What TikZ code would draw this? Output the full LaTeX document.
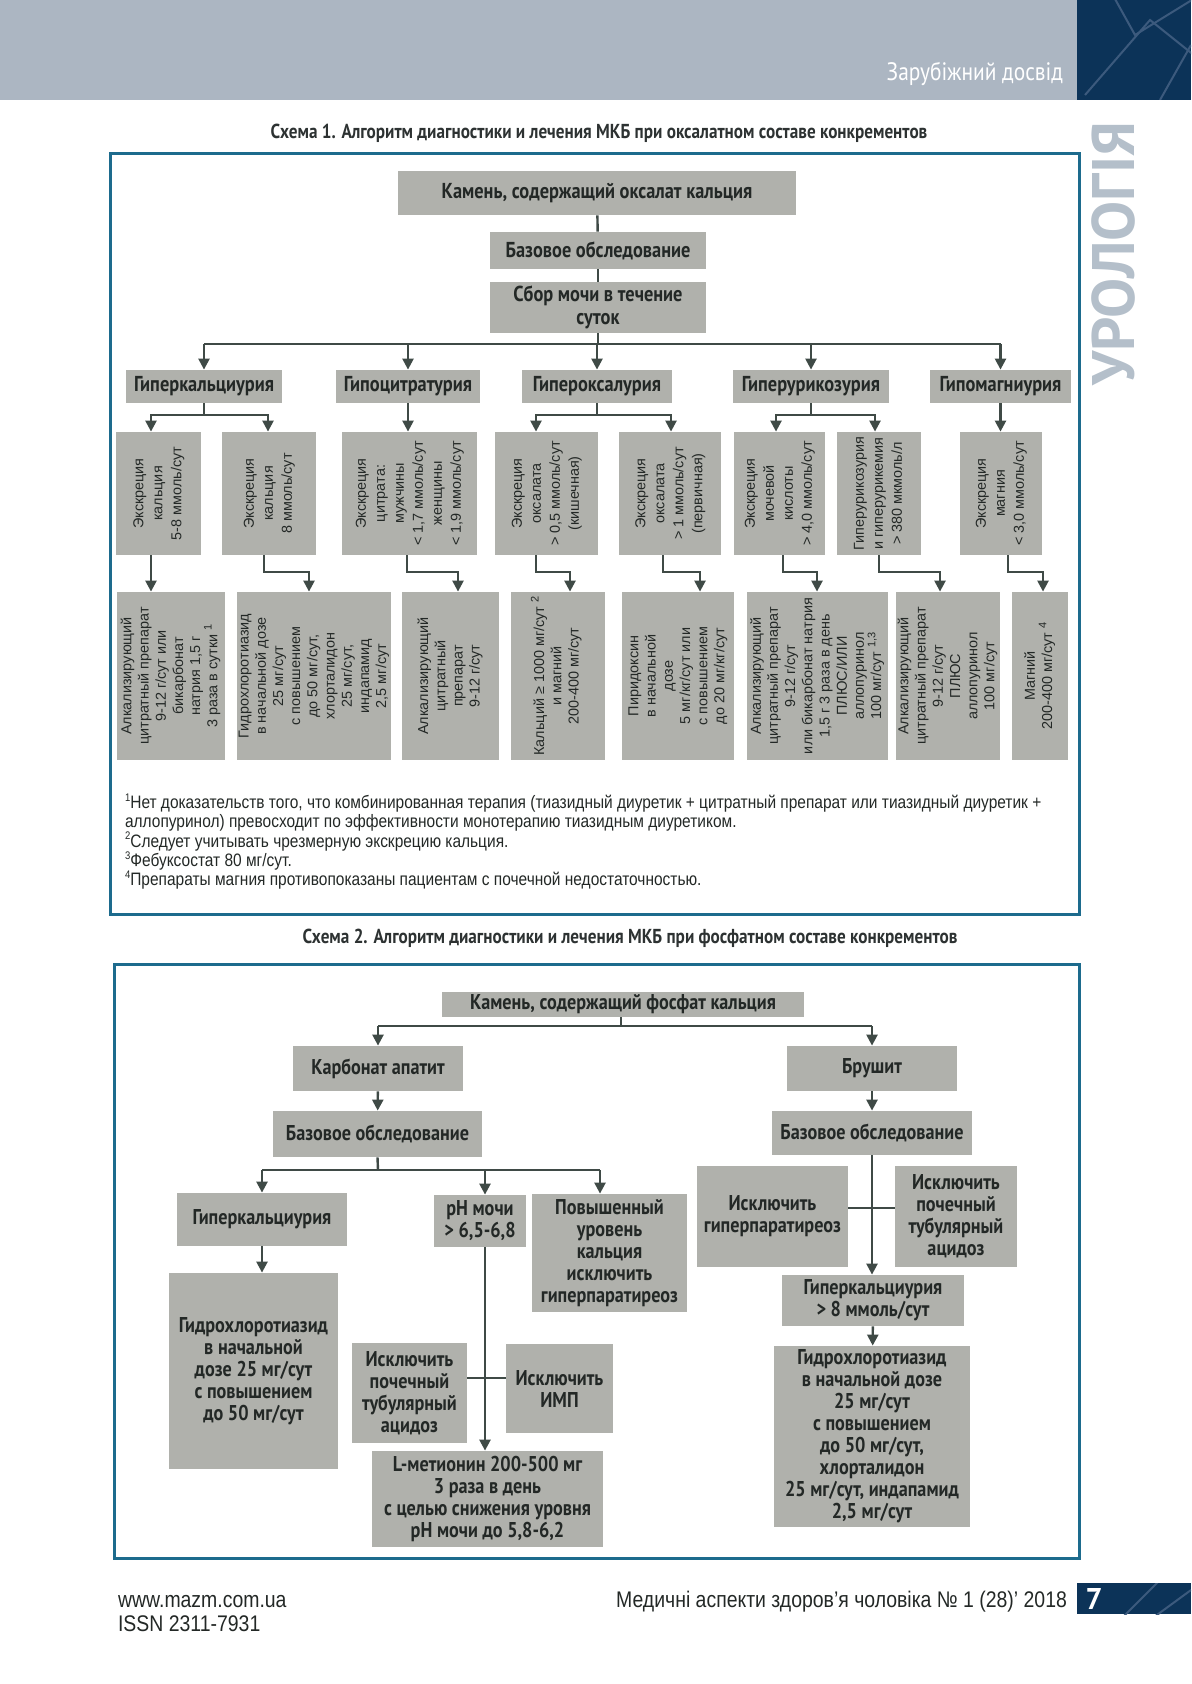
\documentclass[tikz,border=0pt]{standalone}
\usepackage{fontspec}
\usepackage{graphicx}
\setmainfont{Liberation Sans}
\newfontfamily\cond[FakeStretch=0.85]{PT Sans}
\newfontfamily\narrow[FakeStretch=0.86]{Liberation Sans}
\newfontfamily\ptsans{PT Sans}
\usetikzlibrary{arrows.meta}
\definecolor{headgray}{RGB}{172,182,194}
\definecolor{navy}{RGB}{12,51,88}
\definecolor{navyline}{RGB}{60,90,125}
\definecolor{frameblue}{RGB}{29,107,141}
\definecolor{boxgray}{RGB}{176,177,172}
\definecolor{linecol}{RGB}{63,74,70}
\definecolor{textdark}{RGB}{35,40,38}
\definecolor{urogray}{RGB}{180,191,202}
\definecolor{titlegray}{RGB}{45,50,50}
\tikzset{
  box/.style={fill=boxgray, inner sep=0pt, align=center, text=textdark},
  hbox/.style={box, font=\cond\bfseries\fontsize{10.8}{11.5}\selectfont},
  hboxb/.style={box, font=\cond\bfseries\fontsize{10.7}{11}\selectfont},
  rbox/.style={box},
  conn/.style={draw=linecol, line width=1.2pt},
  arr/.style={conn, -{Triangle[length=5.5pt,width=5.5pt]}},
  frame/.style={draw=frameblue, line width=1.5pt},
  ttl/.style={text=titlegray, font=\cond\bfseries\fontsize{10.1}{11}\selectfont},
  foot/.style={text=textdark, font=\narrow\fontsize{11.3}{13}\selectfont},
}
\newcommand\bx[7][]{%
  \pgfmathsetmacro\bxw{(#5-#3)*0.5}%
  \pgfmathsetmacro\bxh{(#6-#4)*0.5}%
  \node[box,#1,minimum width=\bxw pt,minimum height=\bxh pt] (#2) at ({(#3+#5)/2},{(#4+#6)/2}) {#7};}
\newcommand\rt[2]{\rotatebox{90}{\fontsize{7.2}{#1}\selectfont\begin{tabular}{@{}c@{}}#2\end{tabular}}}
\newcommand\fsup[1]{\smash{\raisebox{0.75ex}{\fontsize{5.5}{5.5}\selectfont #1}}}
\begin{document}
\begin{tikzpicture}[x=0.5pt,y=-0.5pt]
\useasboundingbox (0,0) rectangle (1191,1684);
% header
\fill[headgray] (0,0) rectangle (1077,100);
\fill[navy] (1077,0) rectangle (1191,100);
\begin{scope}
\clip (1077,0) rectangle (1191,100);
\draw[navyline, line width=1pt] (1085,95) -- (1150,20) -- (1200,60);
\draw[navyline, line width=1pt] (1110,-10) -- (1135,35) -- (1200,-5);
\draw[navyline, line width=1pt] (1160,100) -- (1191,45);
\end{scope}
\node[anchor=base east, text=white, font=\cond\fontsize{12.6}{13}\selectfont] (hdr) at (1070,81) {Зарубіжний досвід};
\node[rotate=90, text=urogray, font=\ptsans\bfseries\fontsize{30}{30}\selectfont] (uro) at (1113,254) {УРОЛОГІЯ};
% scheme 1
\node[ttl] (title1) at (599,133) {Схема 1. Алгоритм диагностики и лечения МКБ при оксалатном составе конкрементов};
\draw[frame] (110,154) rectangle (1079,914);
\bx[hbox]{k1}{398}{171}{796}{215}{Камень, содержащий оксалат кальция}
\bx[hbox]{b1}{490}{232}{706}{269}{Базовое обследование}
\bx[hbox]{s1}{490}{282}{706}{333}{Сбор мочи в течение\\суток}
\draw[conn] (k1) -- (b1);
\draw[conn] (b1) -- (s1);
\bx[hbox]{h1}{126}{370}{282}{403}{Гиперкальциурия}
\bx[hbox]{h2}{336}{370}{480}{403}{Гипоцитратурия}
\bx[hbox]{h3}{522}{370}{672}{403}{Гипероксалурия}
\bx[hbox]{h4}{733}{370}{889}{403}{Гиперурикозурия}
\bx[hbox]{h5}{930}{370}{1071}{403}{Гипомагниурия}
\coordinate (bus1) at (598,344);
\draw[conn] (s1.south) -- (bus1);
\draw[conn] (h1.north |- bus1) -- (h5.north |- bus1);
\foreach \n in {h1,h2,h3,h4,h5} \draw[arr] (\n.north |- bus1) -- (\n.north);
% row 3
\bx[rbox]{r1}{116}{432}{201}{555}{\rt{9.5}{Экскреция\\кальция\\5-8 ммоль/сут}}
\bx[rbox]{r2}{222}{432}{316}{555}{\rt{9.5}{Экскреция\\кальция\\8 ммоль/сут}}
\bx[rbox]{r3}{342}{432}{477}{555}{\rt{9.5}{Экскреция\\цитрата:\\мужчины\\< 1,7 ммоль/сут\\женщины\\< 1,9 ммоль/сут}}
\bx[rbox]{r4}{495}{432}{598}{555}{\rt{9.5}{Экскреция\\оксалата\\> 0,5 ммоль/сут\\(кишечная)}}
\bx[rbox]{r5}{619}{432}{721}{555}{\rt{9.5}{Экскреция\\оксалата\\> 1 ммоль/сут\\(первичная)}}
\bx[rbox]{r6}{734}{432}{825}{555}{\rt{9.5}{Экскреция\\мочевой\\кислоты\\> 4,0 ммоль/сут}}
\bx[rbox]{r7}{837}{432}{921}{555}{\rt{9.5}{Гиперурикозурия\\и гиперурикемия\\> 380 мкмоль/л}}
\bx[rbox]{r8}{960}{432}{1042}{555}{\rt{9.5}{Экскреция\\магния\\< 3,0 ммоль/сут}}
\coordinate (c11) at (151,415); \coordinate (c12) at (268,415);
\coordinate (c31) at (536,415); \coordinate (c32) at (671,415);
\coordinate (c41) at (776,415); \coordinate (c42) at (875,415);
\draw[arr] (h1.south) |- (c11) -- (c11 |- r1.north);
\draw[arr] (h1.south) |- (c12) -- (c12 |- r2.north);
\draw[arr] (h2.south) -- (h2.south |- r3.north);
\draw[arr] (h3.south) |- (c31) -- (c31 |- r4.north);
\draw[arr] (h3.south) |- (c32) -- (c32 |- r5.north);
\draw[arr] (h4.south) |- (c41) -- (c41 |- r6.north);
\draw[arr] (h4.south) |- (c42) -- (c42 |- r7.north);
\draw[arr] (h5.south) -- (h5.south |- r8.north);
% row 4
\bx[rbox]{t1}{117}{592}{225}{760}{\rt{8.6}{Алкализирующий\\цитратный препарат\\9-12 г/сут или\\бикарбонат\\натрия 1,5 г\\3 раза в сутки \fsup{1}}}
\bx[rbox]{t2}{238}{592}{390}{760}{\rt{8.6}{Гидрохлоротиазид\\в начальной дозе\\25 мг/сут\\с повышением\\до 50 мг/сут,\\хлорталидон\\25 мг/сут,\\индапамид\\2,5 мг/сут}}
\bx[rbox]{t3}{402}{592}{499}{760}{\rt{8.6}{Алкализирующий\\цитратный\\препарат\\9-12 г/сут}}
\bx[rbox]{t4}{511}{592}{605}{760}{\rt{8.6}{Кальций ≥ 1000 мг/сут \fsup{2}\\и магний\\200-400 мг/сут}}
\bx[rbox]{t5}{622}{592}{734}{760}{\rt{8.6}{Пиридоксин\\в начальной\\дозе\\5 мг/кг/сут или\\с повышением\\до 20 мг/кг/сут}}
\bx[rbox]{t6}{747}{592}{888}{760}{\rt{8.6}{Алкализирующий\\цитратный препарат\\9-12 г/сут\\или бикарбонат натрия\\1,5 г 3 раза в день\\ПЛЮС/ИЛИ\\аллопуринол\\100 мг/сут \fsup{1,3}}}
\bx[rbox]{t7}{897}{592}{999}{760}{\rt{8.6}{Алкализирующий\\цитратный препарат\\9-12 г/сут\\ПЛЮС\\аллопуринол\\100 мг/сут}}
\bx[rbox]{t8}{1012}{592}{1068}{760}{\rt{8.6}{Магний\\200-400 мг/сут \fsup{4}}}
\draw[arr] (c11 |- r1.south) -- (c11 |- t1.north);
\coordinate (e2a) at (264,572); \coordinate (e2b) at (309,572);
\coordinate (e3a) at (407,572); \coordinate (e3b) at (458,572);
\coordinate (e4a) at (536,572); \coordinate (e4b) at (570,572);
\coordinate (e5a) at (663,572); \coordinate (e5b) at (700,572);
\coordinate (e6a) at (783,572); \coordinate (e6b) at (817,572);
\coordinate (e7a) at (879,572); \coordinate (e7b) at (940,572);
\coordinate (e8a) at (1008,572); \coordinate (e8b) at (1043,572);
\draw[arr] (e2a |- r2.south) -- (e2a) -- (e2b) -- (e2b |- t2.north);
\draw[arr] (e3a |- r3.south) -- (e3a) -- (e3b) -- (e3b |- t3.north);
\draw[arr] (e4a |- r4.south) -- (e4a) -- (e4b) -- (e4b |- t4.north);
\draw[arr] (e5a |- r5.south) -- (e5a) -- (e5b) -- (e5b |- t5.north);
\draw[arr] (e6a |- r6.south) -- (e6a) -- (e6b) -- (e6b |- t6.north);
\draw[arr] (e7a |- r7.south) -- (e7a) -- (e7b) -- (e7b |- t7.north);
\draw[arr] (e8a |- r8.south) -- (e8a) -- (e8b) -- (e8b |- t8.north);
\node[anchor=north west, align=left, text=textdark, font=\narrow\fontsize{9}{9.65}\selectfont] (notes) at (118,788) {\fsup{1}Нет доказательств того, что комбинированная терапия (тиазидный диуретик + цитратный препарат или тиазидный диуретик +\\аллопуринол) превосходит по эффективности монотерапию тиазидным диуретиком.\\\fsup{2}Следует учитывать чрезмерную экскрецию кальция.\\\fsup{3}Фебуксостат 80 мг/сут.\\\fsup{4}Препараты магния противопоказаны пациентам с почечной недостаточностью.};
% scheme 2
\node[ttl] (title2) at (630,938) {Схема 2. Алгоритм диагностики и лечения МКБ при фосфатном составе конкрементов};
\draw[frame] (114,964) rectangle (1079,1558);
\bx[hboxb]{k2}{442}{992}{804}{1017}{Камень, содержащий фосфат кальция}
\bx[hboxb]{ka}{293}{1046}{463}{1091}{Карбонат апатит}
\bx[hboxb]{br}{787}{1046}{957}{1091}{Брушит}
\bx[hboxb]{bl}{273}{1111}{482}{1157}{Базовое обследование}
\bx[hboxb]{bb}{772}{1111}{972}{1155}{Базовое обследование}
\coordinate (bus2) at (621,1026);
\draw[conn] (k2.south -| bus2) -- (bus2);
\draw[conn] (ka.north |- bus2) -- (br.north |- bus2);
\draw[arr] (ka.north |- bus2) -- (ka.north);
\draw[arr] (br.north |- bus2) -- (br.north);
\draw[arr] (ka) -- (bl);
\draw[arr] (br) -- (bb);
\bx[hboxb]{g1}{177}{1193}{347}{1246}{Гиперкальциурия}
\bx[hboxb]{ph}{434}{1195}{526}{1247}{pH мочи\\> 6,5-6,8}
\bx[hboxb]{pv}{532}{1194}{687}{1312}{Повышенный\\уровень\\кальция\\исключить\\гиперпаратиреоз}
\coordinate (bus3) at (378,1170);
\coordinate (d1) at (262,1170); \coordinate (d2) at (485,1170); \coordinate (d3) at (600,1170);
\draw[conn] (bl.south) -- (bus3);
\draw[conn] (d1) -- (d3);
\draw[arr] (d1) -- (d1 |- g1.north);
\draw[arr] (d2) -- (d2 |- ph.north);
\draw[arr] (d3) -- (d3 |- pv.north);
\bx[hboxb]{gh}{169}{1273}{338}{1469}{Гидрохлоротиазид\\в начальной\\дозе 25 мг/сут\\с повышением\\до 50 мг/сут}
\bx[hboxb]{pa}{352}{1343}{467}{1443}{Исключить\\почечный\\тубулярный\\ацидоз}
\bx[hboxb]{im}{506}{1344}{613}{1433}{Исключить\\ИМП}
\bx[hboxb]{lm}{372}{1451}{603}{1547}{L-метионин 200-500 мг\\3 раза в день\\с целью снижения уровня\\pH мочи до 5,8-6,2}
\draw[arr] (g1.south -| d1) -- (gh.north -| d1);
\draw[arr] (ph.south -| d2) -- (lm.north -| d2);
\coordinate (x1) at (485,1378);
\draw[conn] (pa.east |- x1) -- (im.west |- x1);
\bx[hboxb]{gp}{697}{1166}{848}{1267}{Исключить\\гиперпаратиреоз}
\bx[hboxb]{pa2}{895}{1166}{1017}{1267}{Исключить\\почечный\\тубулярный\\ацидоз}
\bx[hboxb]{hk}{782}{1275}{964}{1326}{Гиперкальциурия\\> 8 ммоль/сут}
\bx[hboxb]{gh2}{774}{1346}{970}{1527}{Гидрохлоротиазид\\в начальной дозе\\25 мг/сут\\с повышением\\до 50 мг/сут,\\хлорталидон\\25 мг/сут, индапамид\\2,5 мг/сут}
\draw[arr] (bb.south) -- (bb.south |- hk.north);
\coordinate (x2) at (872,1208);
\draw[conn] (gp.east |- x2) -- (pa2.west |- x2);
\draw[arr] (hk) -- (gh2);
% footer
\node[anchor=base west, foot] (url) at (111,1607) {www.mazm.com.ua};
\node[anchor=base west, foot] (issn) at (111,1631) {ISSN 2311-7931};
\node[anchor=base east, foot] (jour) at (1074,1607) {Медичні аспекти здоров’я чоловіка № 1 (28)’ 2018};
\fill[navy] (1077,1583) rectangle (1191,1614);
\begin{scope}
\clip (1077,1583) rectangle (1191,1614);
\draw[navyline, line width=1pt] (1120,1620) -- (1160,1580);
\draw[navyline, line width=1pt] (1150,1620) -- (1191,1590);
\end{scope}
\node[text=white, font=\ptsans\bfseries\fontsize{15}{15}\selectfont] (pg) at (1094,1599) {7};
\end{tikzpicture}
\end{document}
